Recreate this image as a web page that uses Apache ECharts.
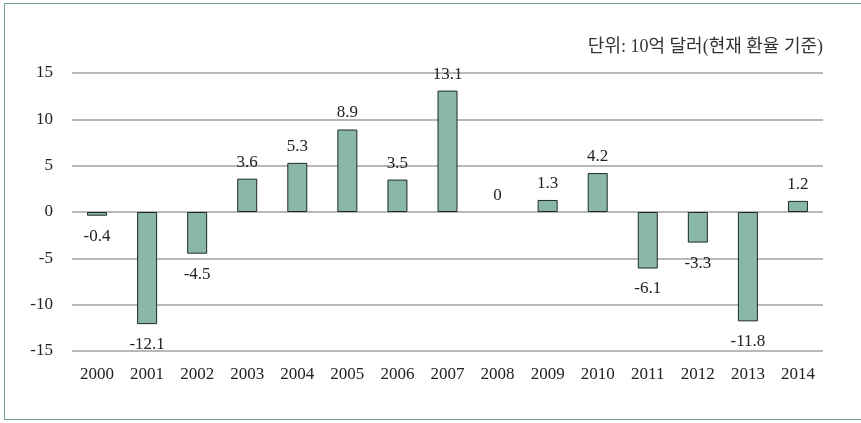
<!DOCTYPE html>
<html><head><meta charset="utf-8">
<script src="https://cdn.jsdelivr.net/npm/echarts@6/dist/echarts.min.js"></script>
<style>
html,body{margin:0;padding:0;background:#fff;overflow:hidden;}
#frame{position:absolute;left:4px;top:3px;width:880px;height:417px;border:1.5px solid #6fa88f;box-sizing:border-box;}
#c{position:absolute;left:0;top:0;width:861px;height:423px;}
</style></head>
<body>
<div id="frame"></div>
<div id="c"></div>
<script>
const years = ['2000','2001','2002','2003','2004','2005','2006','2007','2008','2009','2010','2011','2012','2013','2014'];
const values = [-0.4,-12.1,-4.5,3.6,5.3,8.9,3.5,13.1,0,1.3,4.2,-6.1,-3.3,-11.8,1.2];
const yTicks = {min:-15,max:15,interval:5};
const unitText = '단위: 10억 달러(현재 환율 기준)';
const font = "'Liberation Serif','Times New Roman',serif";

const chart = echarts.init(document.getElementById('c'), null, {renderer:'canvas'});
chart.setOption({
  animation:false,
  backgroundColor:'transparent',
  grid:{left:72,right:38,top:73,bottom:72,containLabel:false},
  graphic:[{type:'text',right:38,top:38,style:{text:unitText,font:"18px 'Liberation Serif','Noto Sans CJK KR',serif",fill:'#333'}}],
  xAxis:{type:'category',data:years,axisLine:{show:false,onZero:false},axisTick:{show:false},
    axisLabel:{color:'#222',fontFamily:font,fontSize:17,margin:15}},
  yAxis:{type:'value',min:yTicks.min,max:yTicks.max,interval:yTicks.interval,
    axisLine:{show:false},axisTick:{show:false},
    axisLabel:{color:'#222',fontFamily:font,fontSize:17,margin:19},
    splitLine:{lineStyle:{color:'#a0a0a0',width:1.5}}},
  series:[{type:'bar',barWidth:20,
    data:values.map(v=>({value:v,
      itemStyle:v===0?{borderWidth:0,color:'rgba(0,0,0,0)'}:undefined,
      label:{position:v<0?'bottom':'top',distance:v<0?12:8}})),
    itemStyle:{color:'#8ab8a6',borderColor:'#1e2a24',borderWidth:1},
    label:{show:true,color:'#222',fontFamily:font,fontSize:17,formatter:p=>String(p.value)}
  }]
});
</script>
</body></html>
